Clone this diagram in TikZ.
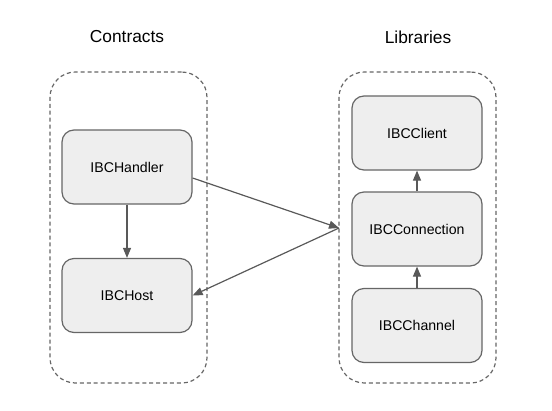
\documentclass[tikz,border=0pt]{standalone}
\usepackage{fontspec}
\setmainfont{Liberation Sans}
\usetikzlibrary{arrows.meta}
\definecolor{boxfill}{HTML}{EEEEEE}
\definecolor{boxline}{HTML}{666666}
\definecolor{arrowc}{HTML}{595959}
\begin{document}
\begin{tikzpicture}[x=0.75pt,y=-0.75pt,
  container/.style={draw=boxline,line width=0.9pt,dash pattern=on 3pt off 2.2pt,rounded corners=19pt,
    minimum width=117.75pt,minimum height=233.25pt,inner sep=0pt},
  comp/.style={draw=boxline,fill=boxfill,line width=0.9pt,rounded corners=9pt,
    minimum width=97.5pt,minimum height=55.5pt,inner sep=0pt,font=\fontsize{10.6pt}{12pt}\selectfont},
  title/.style={font=\fontsize{13pt}{15pt}\selectfont},
  link/.style={draw=arrowc,line width=0.9pt,-{Triangle[length=7.5pt,width=6pt]}}]
\useasboundingbox (0,0) rectangle (552,410);
\node[container] (contracts) at (128.5,227.5) {};
\node[container] (libraries) at (417.5,227.5) {};
\node[title] (tc) at (127,37) {Contracts};
\node[title] (tl) at (418,37) {Libraries};
\node[comp] (handler) at (127,167) {IBCHandler};
\node[comp] (host) at (127,295.5) {IBCHost};
\node[comp] (client) at (417,133) {IBCClient};
\node[comp] (connection) at (417,229) {IBCConnection};
\node[comp] (channel) at (417,325.5) {IBCChannel};
\coordinate (hub) at (339,228);
\draw[link] ([yshift=-8.25pt]handler.east) -- (hub);
\draw[link] (hub) -- (host.east);
\draw[link] (handler) -- (host);
\draw[link] (connection) -- (client);
\draw[link] (channel) -- (connection);
\end{tikzpicture}
\end{document}
